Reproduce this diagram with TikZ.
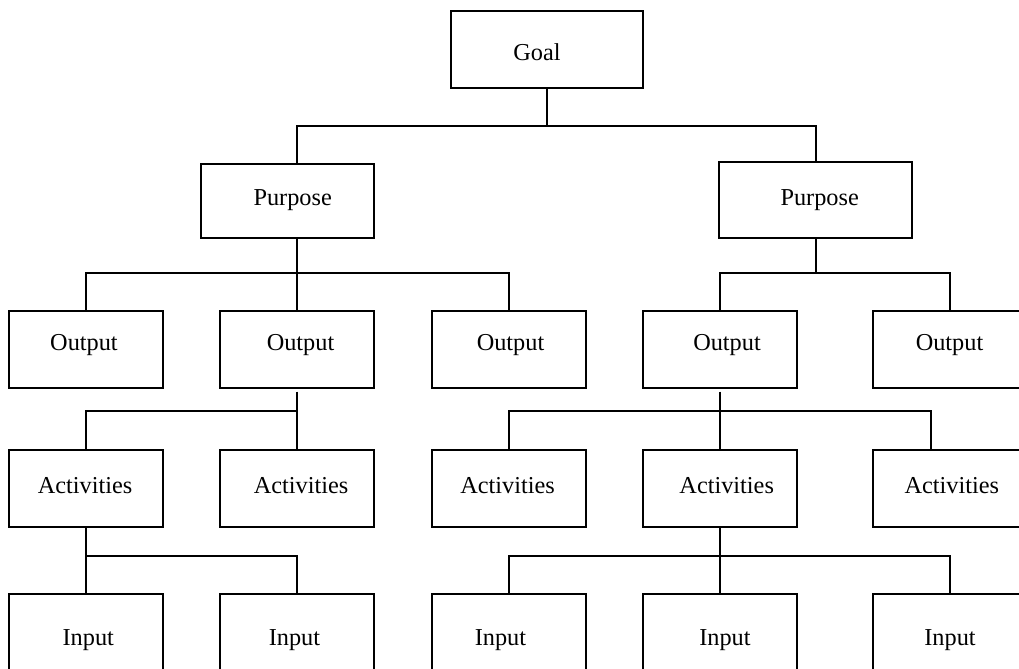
\documentclass[tikz,border=0pt]{standalone}
\usepackage{fontspec}
\setmainfont{Liberation Serif}
\begin{document}
\begin{tikzpicture}[x=0.5pt,y=-0.5pt,line width=1pt,
  box/.style={draw=black,line width=1pt,rectangle,inner sep=0pt,outer sep=0pt,minimum width=77.15pt,minimum height=38.5pt},
  lbl/.style={anchor=base,inner sep=0pt,font=\fontsize{12.15}{14}\selectfont},
  conn/.style={draw=black,line width=1pt}]
\useasboundingbox (0,0) rectangle (1019,669);
\clip (0,0) rectangle (1019,669);
% boxes
\node[box,minimum width=96.4pt] (goal) at (546.9,49.2) {};
\node[box,minimum width=86.8pt,minimum height=37.15pt] (pL) at (287.5,201.15) {};
\node[box,minimum width=96.35pt,minimum height=38.15pt] (pR) at (815.65,200.15) {};
\node[box] (o1) at (85.85,349.35) {};
\node[box] (o2) at (297.15,349.35) {};
\node[box] (o3) at (508.7,349.35) {};
\node[box] (o4) at (719.7,349.35) {};
\node[box] (o5) at (950.15,349.35) {};
\node[box] (a1) at (85.85,488) {};
\node[box] (a2) at (297.15,488) {};
\node[box] (a3) at (508.7,488) {};
\node[box] (a4) at (719.7,488) {};
\node[box] (a5) at (950.15,488) {};
\node[box,minimum height=50pt] (i1) at (85.85,644.3) {};
\node[box,minimum height=50pt] (i2) at (297.15,644.3) {};
\node[box,minimum height=50pt] (i3) at (508.7,644.3) {};
\node[box,minimum height=50pt] (i4) at (719.7,644.3) {};
\node[box,minimum height=50pt] (i5) at (950.15,644.3) {};
% labels
\node[lbl] (tgoal) at (537,61) {Goal};
\node[lbl] (tpL) at (292.7,205) {Purpose};
\node[lbl] (tpR) at (819.7,205) {Purpose};
\node[lbl] (to1) at (84,350) {Output};
\node[lbl] (to2) at (300.5,350) {Output};
\node[lbl] (to3) at (510.5,350) {Output};
\node[lbl] (to4) at (727,350) {Output};
\node[lbl] (to5) at (949.5,350) {Output};
\node[lbl] (ta1) at (85,493.3) {Activities};
\node[lbl] (ta2) at (301,493.3) {Activities};
\node[lbl] (ta3) at (507.5,493.3) {Activities};
\node[lbl] (ta4) at (726.7,493.3) {Activities};
\node[lbl] (ta5) at (951.8,493.3) {Activities};
\node[lbl] (ti1) at (88.3,645.3) {Input};
\node[lbl] (ti2) at (294.5,645.3) {Input};
\node[lbl] (ti3) at (500.5,645.3) {Input};
\node[lbl] (ti4) at (725,645.3) {Input};
\node[lbl] (ti5) at (950,645.3) {Input};
% junction coordinates
\coordinate (j1) at (546.9,126);
\coordinate (pLt) at (297.15,164);
\coordinate (pLb) at (297.15,238.3);
\coordinate (j2) at (297.15,272.7);
\coordinate (j3) at (815.65,272.7);
\coordinate (o2s) at (297.15,391.7);
\coordinate (j4) at (297.15,411);
\coordinate (o4s) at (719.7,391.7);
\coordinate (j5) at (719.7,411);
\coordinate (a5t) at (931,449.3);
\coordinate (j6) at (85.85,555.7);
\coordinate (j7) at (719.7,555.7);
% connectors
\draw[conn] (goal.south) -- (j1) -| (pLt);
\draw[conn] (j1) -| (pR.north);
\draw[conn] (pLb) -- (j2) -- (o2.north);
\draw[conn] (j2) -| (o1.north);
\draw[conn] (j2) -| (o3.north);
\draw[conn] (pR.south) -- (j3) -| (o4.north);
\draw[conn] (j3) -| (o5.north);
\draw[conn] (o2s) -- (a2.north);
\draw[conn] (j4) -| (a1.north);
\draw[conn] (o4s) -- (a4.north);
\draw[conn] (j5) -| (a3.north);
\draw[conn] (j5) -| (a5t);
\draw[conn] (a1.south) -- (i1.north);
\draw[conn] (j6) -| (i2.north);
\draw[conn] (a4.south) -- (i4.north);
\draw[conn] (j7) -| (i3.north);
\draw[conn] (j7) -| (i5.north);
\end{tikzpicture}
\end{document}
